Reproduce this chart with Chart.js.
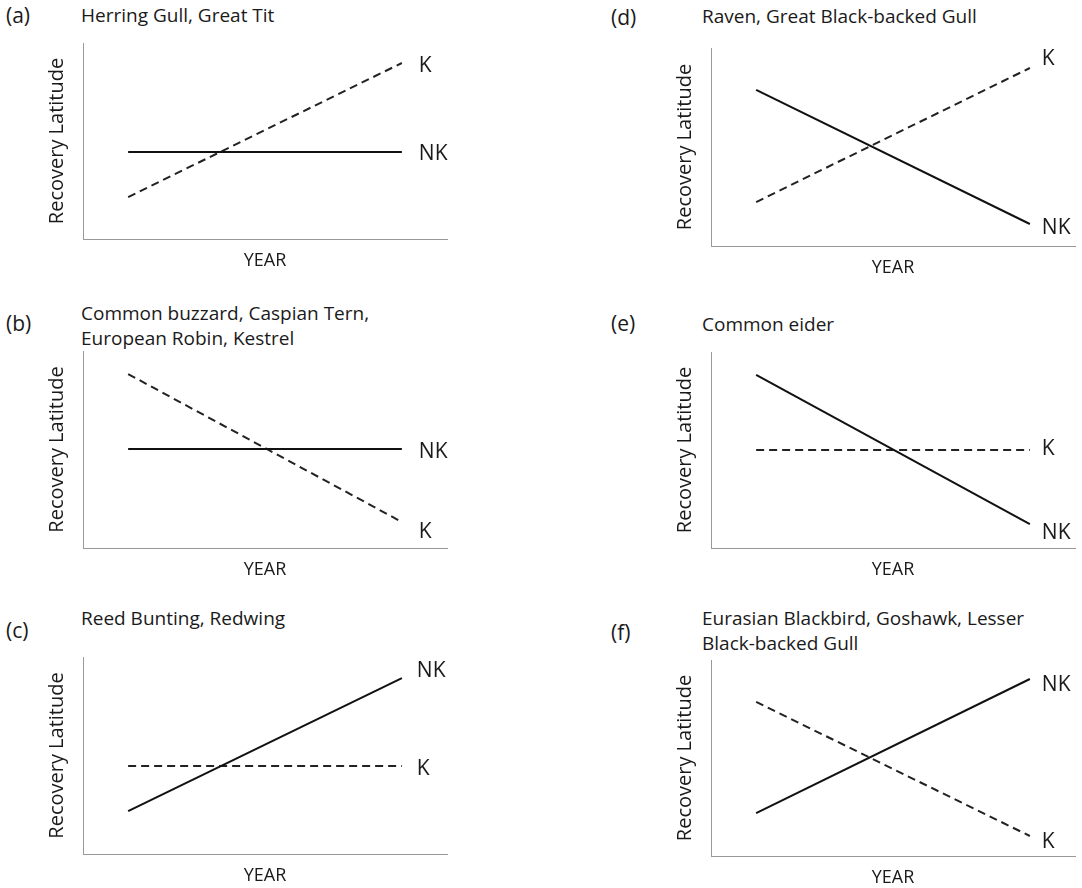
<!DOCTYPE html>
<html>
<head>
<meta charset="utf-8">
<script src="https://cdn.jsdelivr.net/npm/chart.js@4.4.0/dist/chart.umd.min.js"></script>
<style>
  body { margin: 0; background: #fff; font-family: "Open Sans", sans-serif; color: #1a1a1a; }
  #page { position: relative; width: 1082px; height: 888px; overflow: hidden; }
  .txt { position: absolute; font-size: 19px; line-height: 25px; white-space: nowrap; }
  .tag { font-size: 21px; }
  canvas { position: absolute; }
</style>
</head>
<body>
<div id="page"></div>
<script>
// data (arbitrary units, 0-100 on both axes)
const panelTags = ["(a)", "(b)", "(c)", "(d)", "(e)", "(f)"];
const panelTitles = [
  ["Herring Gull, Great Tit"],
  ["Common buzzard, Caspian Tern,", "European Robin, Kestrel"],
  ["Reed Bunting, Redwing"],
  ["Raven, Great Black-backed Gull"],
  ["Common eider"],
  ["Eurasian Blackbird, Goshawk, Lesser", "Black-backed Gull"]
];
const trendYears = [12.4, 87.6];
const nkSeries = [[44.4, 44.4], [50.3, 50.3], [21.8, 89.3], [78.8, 11.1], [88.3, 12.2], [21.9, 90.3]];
const kSeries  = [[21.4, 89.8], [88.3, 13.2], [44.7, 44.7], [22.2, 89.9], [50.0, 50.0], [78.6, 10.2]];

// layout: left edge of canvas, plot top/bottom, title rows, end label nudges
const layouts = [
  { left: 30,  top: 43,  bottom: 239, tagY: 15,  titleY: 15,  dx: 17, dy: { NK: 2, K: 3 } },
  { left: 30,  top: 351, bottom: 548, tagY: 323, titleY: 313, dx: 17, dy: { NK: 3, K: 10 } },
  { left: 30,  top: 657, bottom: 854, tagY: 630, titleY: 618, dx: 15, dy: { NK: -7, K: 3 } },
  { left: 658, top: 48,  bottom: 246, tagY: 17,  titleY: 16,  dx: 12, dy: { NK: 4, K: -9 } },
  { left: 658, top: 352, bottom: 548, tagY: 323, titleY: 324, dx: 12, dy: { NK: 9, K: -1 } },
  { left: 658, top: 660, bottom: 856, tagY: 632, titleY: 618, dx: 12, dy: { NK: 6, K: 6 } }
];

const FONT = '"Open Sans", sans-serif';
const page = document.getElementById("page");

const endLabels = {
  id: "endLabels",
  afterDatasetsDraw(chart, args, opts) {
    const ctx = chart.ctx;
    ctx.save();
    ctx.font = "21px " + FONT;
    ctx.fillStyle = "#1a1a1a";
    ctx.textAlign = "left";
    ctx.textBaseline = "middle";
    chart.data.datasets.forEach((ds, i) => {
      const pts = chart.getDatasetMeta(i).data;
      const last = pts[pts.length - 1];
      ctx.fillText(ds.label, last.x + opts.dx, last.y + (opts.dy[ds.label] || 0));
    });
    ctx.restore();
  }
};

function addText(text, x, cy, cls) {
  const d = document.createElement("div");
  d.className = "txt" + (cls ? " " + cls : "");
  d.textContent = text;
  d.style.left = x + "px";
  d.style.top = (cy - 12.5) + "px";
  page.appendChild(d);
}

layouts.forEach((lay, p) => {
  const tagX = lay.left < 500 ? 6 : 611;
  const titleX = lay.left < 500 ? 81 : 702;
  addText(panelTags[p], tagX, lay.tagY, "tag");
  panelTitles[p].forEach((line, j) => addText(line, titleX, lay.titleY + j * 25));

  const W = 430, H = (lay.bottom - lay.top) + 5 + 40;
  const canvas = document.createElement("canvas");
  canvas.width = W;
  canvas.height = H;
  canvas.style.left = lay.left + "px";
  canvas.style.top = (lay.top - 5) + "px";
  page.appendChild(canvas);

  new Chart(canvas, {
    type: "line",
    data: {
      datasets: [
        {
          label: "NK",
          data: trendYears.map((x, i) => ({ x: x, y: nkSeries[p][i] })),
          borderColor: "#111",
          borderWidth: 2,
          pointRadius: 0
        },
        {
          label: "K",
          data: trendYears.map((x, i) => ({ x: x, y: kSeries[p][i] })),
          borderColor: "#222",
          borderWidth: 2,
          borderDash: [8, 5],
          pointRadius: 0
        }
      ]
    },
    options: {
      responsive: false,
      animation: false,
      events: [],
      layout: { padding: { top: 5, right: 13, left: 0, bottom: 0 } },
      plugins: {
        legend: { display: false },
        tooltip: { enabled: false },
        endLabels: { dx: lay.dx, dy: lay.dy }
      },
      scales: {
        x: {
          type: "linear",
          min: 0,
          max: 100,
          grid: { display: false },
          ticks: { display: false },
          border: { color: "#999", width: 1 },
          title: {
            display: true,
            text: "YEAR",
            color: "#1a1a1a",
            font: { family: FONT, size: 18 },
            padding: { top: 0, bottom: 7 }
          },
          afterFit(axis) { axis.height = 40; }
        },
        y: {
          min: 0,
          max: 100,
          grid: { display: false },
          ticks: { display: false },
          border: { color: "#999", width: 1 },
          title: {
            display: true,
            text: "Recovery Latitude",
            color: "#1a1a1a",
            font: { family: FONT, size: 20 },
            padding: { top: 15, bottom: 0 }
          },
          afterFit(axis) { axis.width = 53; }
        }
      }
    },
    plugins: [endLabels]
  });
});
</script>
</body>
</html>
